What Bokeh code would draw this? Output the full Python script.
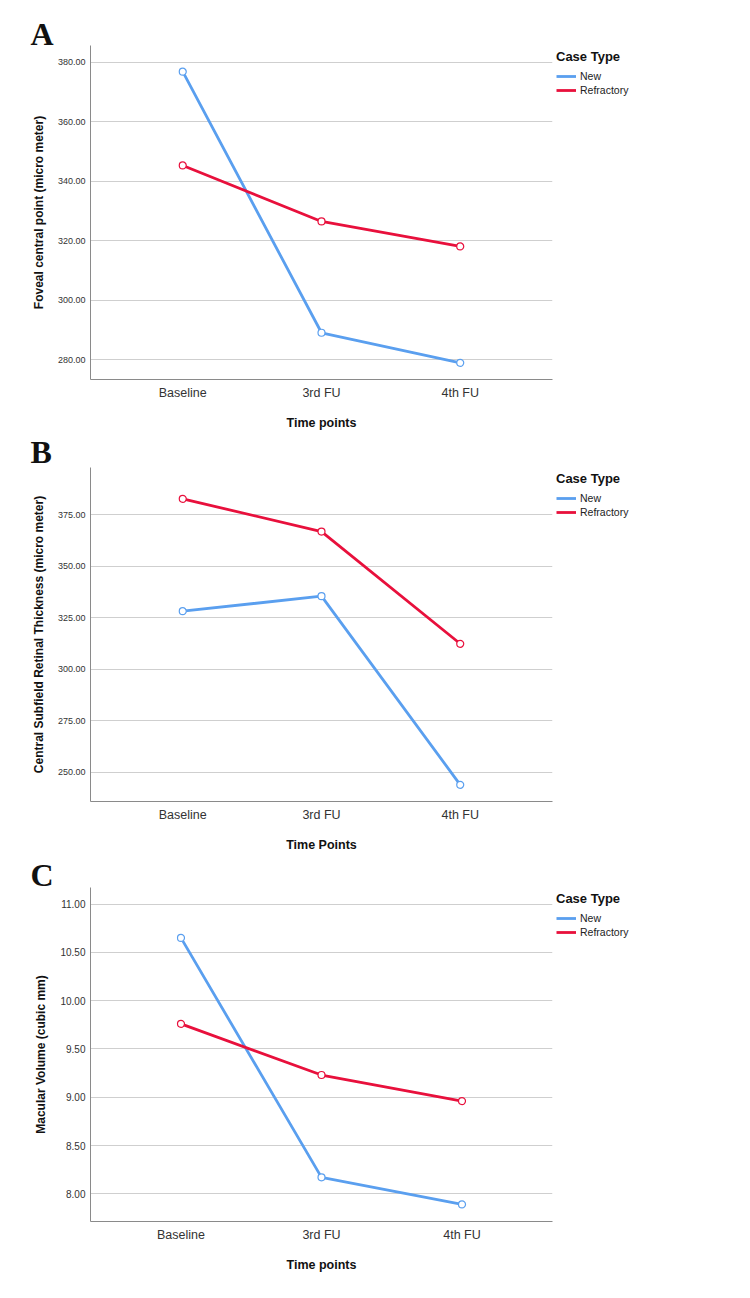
from bokeh.plotting import figure
from bokeh.models import (FactorRange, Range1d, FixedTicker, NumeralTickFormatter,
                          Legend, LegendItem, Title)
from bokeh.layouts import column
from bokeh.embed import file_html
from bokeh.resources import INLINE

# ---------------- data ----------------
time_points = ["Baseline", "3rd FU", "4th FU"]
series_names = ["New", "Refractory"]

fcp_new = [376.8, 289.1, 279.0]
fcp_refractory = [345.3, 326.5, 318.1]

cst_new = [328.2, 335.5, 244.0]
cst_refractory = [382.7, 366.8, 312.4]

mv_new = [10.65, 8.17, 7.89]
mv_refractory = [9.76, 9.23, 8.96]

fcp_ticks = [280, 300, 320, 340, 360, 380]
cst_ticks = [250, 275, 300, 325, 350, 375]
mv_ticks = [8.0, 8.5, 9.0, 9.5, 10.0, 10.5, 11.0]

BLUE = "#5a9fef"
RED = "#e8103c"
SANS = "Liberation Sans"
LEFT = 90


def letter_title(letter, standoff):
    return Title(text=letter, align="left", offset=30 - LEFT,
                 text_font="Liberation Serif", text_font_style="bold",
                 text_font_size="32px", text_color="#111111",
                 vertical_align="bottom", standoff=standoff)


def make_panel(letter, letter_standoff, ylabel, xlabel, new, refr, yrange, ticks,
               top, bottom, tick_size, pad):
    p = figure(frame_width=552 - LEFT, frame_height=334,
               x_range=FactorRange(factors=time_points, range_padding=pad),
               y_range=Range1d(*yrange),
               output_backend="svg", toolbar_location=None,
               min_border_left=LEFT, min_border_right=0,
               min_border_top=top, min_border_bottom=bottom)
    p.title = letter_title(letter, letter_standoff)
    p.outline_line_color = None
    p.background_fill_color = "white"
    p.border_fill_color = "white"
    p.xgrid.visible = False
    p.ygrid.grid_line_color = "#cfcfcf"
    p.ygrid.grid_line_width = 1

    # y axis
    p.yaxis.ticker = FixedTicker(ticks=ticks)
    p.yaxis.formatter = NumeralTickFormatter(format="0.00")
    p.yaxis.major_tick_out = 0
    p.yaxis.major_tick_in = 0
    p.yaxis.major_tick_line_color = None
    p.yaxis.minor_tick_line_color = None
    p.yaxis.major_label_standoff = 5
    p.yaxis.major_label_text_font = SANS
    p.yaxis.major_label_text_font_size = tick_size
    p.yaxis.major_label_text_color = "#333333"
    p.yaxis.axis_line_color = "#8a8a8a"
    p.yaxis.axis_label = ylabel
    p.yaxis.axis_label_text_font = SANS
    p.yaxis.axis_label_text_font_style = "bold"
    p.yaxis.axis_label_text_font_size = "12px"
    p.yaxis.axis_label_text_color = "#111111"
    p.yaxis.axis_label_standoff = 9

    # x axis
    p.xaxis.major_tick_out = 0
    p.xaxis.major_tick_in = 0
    p.xaxis.major_tick_line_color = None
    p.xaxis.minor_tick_line_color = None
    p.xaxis.major_label_standoff = 6
    p.xaxis.major_label_text_font = SANS
    p.xaxis.major_label_text_font_size = "12.5px"
    p.xaxis.major_label_text_color = "#333333"
    p.xaxis.axis_line_color = "#8a8a8a"
    p.xaxis.axis_label = xlabel
    p.xaxis.axis_label_text_font = SANS
    p.xaxis.axis_label_text_font_style = "bold"
    p.xaxis.axis_label_text_font_size = "12.5px"
    p.xaxis.axis_label_text_color = "#111111"
    p.xaxis.axis_label_standoff = 13

    l_new = p.line(time_points, new, line_color=BLUE, line_width=2.8)
    p.scatter(time_points, new, marker="circle", size=7, fill_color="white",
              line_color=BLUE, line_width=1.2)
    l_ref = p.line(time_points, refr, line_color=RED, line_width=2.8)
    p.scatter(time_points, refr, marker="circle", size=7, fill_color="white",
              line_color=RED, line_width=1.2)

    legend = Legend(items=[LegendItem(label=series_names[0], renderers=[l_new]),
                           LegendItem(label=series_names[1], renderers=[l_ref])],
                    location="top_left",
                    title="Case Type",
                    title_text_font=SANS, title_text_font_style="bold",
                    title_text_font_size="13px", title_text_color="#111111",
                    title_standoff=5,
                    label_text_font=SANS, label_text_font_size="10.5px",
                    label_text_color="#222222",
                    glyph_width=20, glyph_height=14, label_height=14,
                    label_standoff=4, spacing=0, padding=4, margin=0,
                    border_line_alpha=0, background_fill_alpha=0)
    p.add_layout(legend, "right")
    return p


pa = make_panel("A", -12, "Foveal central point (micro meter)", "Time points",
                fcp_new, fcp_refractory, (273.4, 385.6), fcp_ticks,
                45, 52, "9px", 0.11)
pb = make_panel("B", -4, "Central Subfield Retinal Thickness (micro meter)", "Time Points",
                cst_new, cst_refractory, (235.9, 397.9), cst_ticks,
                35, 54, "9px", 0.11)
pc = make_panel("C", -10, "Macular Volume (cubic mm)", "Time points",
                mv_new, mv_refractory, (7.713, 11.172), mv_ticks,
                32, 77, "10px", 0.096)

layout = column(pa, pb, pc, spacing=0)
open("out.html", "w").write(file_html(layout, INLINE))
